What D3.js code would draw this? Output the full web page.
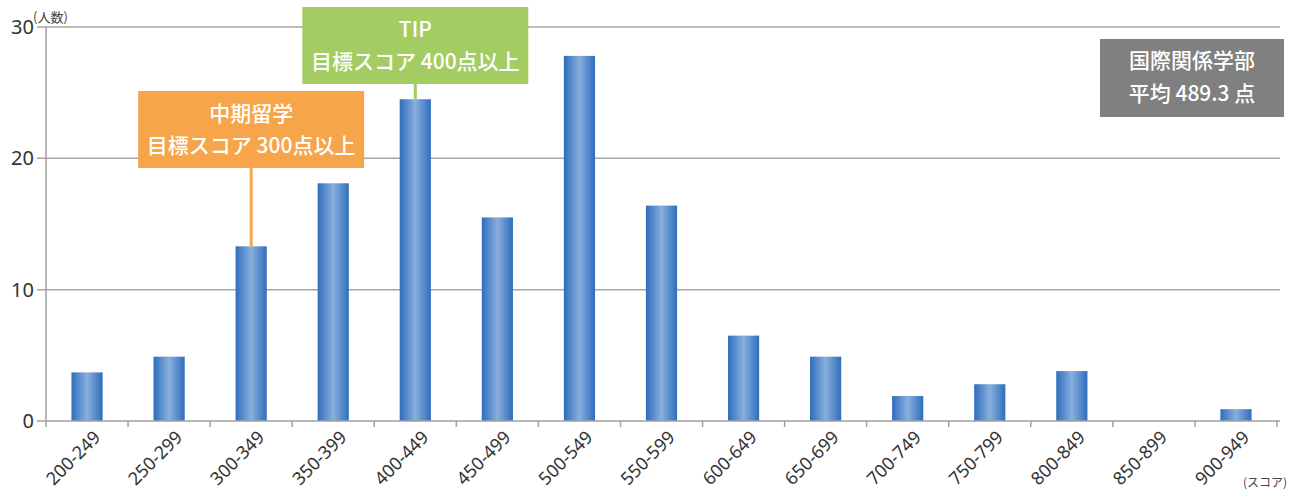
<!DOCTYPE html>
<html>
<head>
<meta charset="utf-8">
<script src="https://d3js.org/d3.v7.min.js"></script>
<style>
  body { margin: 0; background: #fff; }
  svg { display: block; font-family: "Noto Sans CJK JP", "Noto Sans", sans-serif; }
</style>
</head>
<body>
<svg id="chart"></svg>
<script>
// score bands and number of students
var bands = ["200-249", "250-299", "300-349", "350-399", "400-449", "450-499", "500-549",
             "550-599", "600-649", "650-699", "700-749", "750-799", "800-849", "850-899", "900-949"];
var counts = [3.7, 4.9, 13.3, 18.1, 24.5, 15.5, 27.8, 16.4, 6.5, 4.9, 1.9, 2.8, 3.8, 0, 0.9];
var yTicks = [0, 10, 20, 30];

// callouts pointing at bars
var callouts = [
  { band: "300-349", lines: ["中期留学", "目標スコア 300点以上"], color: "#f7a54a", boxTop: 91 },
  { band: "400-449", lines: ["TIP", "目標スコア 400点以上"], color: "#a3cd62", boxTop: 7 }
];
var average = ["国際関係学部", "平均 489.3 点"];

var W = 1290, H = 493;
var m = { left: 46, right: 1277, top: 27, bottom: 421 };

var svg = d3.select("#chart").attr("width", W).attr("height", H);

var x = d3.scaleBand().domain(bands).range([m.left, m.right]).paddingInner(0.62).paddingOuter(0.31);
var xb = d3.scaleBand().domain(bands).range([m.left, m.right]);
var y = d3.scaleLinear().domain([0, 30]).range([m.bottom, m.top]);

// gradient for bars
var grad = svg.append("defs").append("linearGradient").attr("id", "barGrad")
  .attr("x1", "0%").attr("x2", "100%").attr("y1", "0%").attr("y2", "0%");
grad.append("stop").attr("offset", "0%").attr("stop-color", "#2f6dbd");
grad.append("stop").attr("offset", "50%").attr("stop-color", "#89afdd");
grad.append("stop").attr("offset", "100%").attr("stop-color", "#2f6dbd");

// gridlines
svg.append("g").selectAll("line").data(yTicks.filter(function(d) { return d > 0; }))
  .enter().append("line")
  .attr("x1", m.left - 9).attr("x2", m.right + 3)
  .attr("y1", function(d) { return y(d); }).attr("y2", function(d) { return y(d); })
  .attr("stroke", "#a6a6a6").attr("stroke-width", 1.5);

// y tick labels
svg.append("g").selectAll("text").data(yTicks).enter().append("text")
  .attr("x", 34).attr("y", function(d) { return y(d); }).attr("dy", "0.35em")
  .attr("text-anchor", "end").attr("font-size", 20).attr("fill", "#333")
  .style("font-family", "'Noto Sans', sans-serif")
  .text(function(d) { return d; });

svg.append("text").attr("x", 33).attr("y", 22).attr("font-size", 13).attr("fill", "#444")
  .text("(人数)");

// bars
svg.append("g").selectAll("rect").data(counts).enter().append("rect")
  .attr("x", function(d, i) { return x(bands[i]); })
  .attr("width", x.bandwidth())
  .attr("y", function(d) { return y(d); })
  .attr("height", function(d) { return y(0) - y(d); })
  .attr("fill", "url(#barGrad)");

// axes lines
svg.append("line").attr("x1", m.left).attr("x2", m.left).attr("y1", m.top).attr("y2", m.bottom)
  .attr("stroke", "#a0a0a0").attr("stroke-width", 1.5);
svg.append("line").attr("x1", m.left - 9).attr("x2", m.right + 3).attr("y1", m.bottom).attr("y2", m.bottom)
  .attr("stroke", "#a0a0a0").attr("stroke-width", 1.5);

// x ticks at band edges
var edges = bands.map(function(b) { return xb(b); }).concat([m.right]);
svg.append("g").selectAll("line").data(edges).enter().append("line")
  .attr("x1", function(d) { return d; }).attr("x2", function(d) { return d; })
  .attr("y1", m.bottom).attr("y2", m.bottom + 6)
  .attr("stroke", "#a0a0a0").attr("stroke-width", 1.5);

// x labels, rotated
svg.append("g").selectAll("text").data(bands).enter().append("text")
  .attr("transform", function(d) {
    return "translate(" + (xb(d) + xb.bandwidth() / 2 + 10) + "," + (m.bottom + 13) + ") rotate(-45)";
  })
  .attr("text-anchor", "end").attr("dy", "0.35em")
  .attr("font-size", 18).attr("fill", "#333")
  .style("font-family", "'Noto Sans', sans-serif")
  .text(function(d) { return d; });

svg.append("text").attr("x", 1287).attr("y", 487).attr("text-anchor", "end")
  .attr("font-size", 12).attr("fill", "#444").text("(スコア)");

// callouts
var boxW = 226, boxH = 77;
callouts.forEach(function(c) {
  var i = bands.indexOf(c.band);
  var cx = xb(c.band) + xb.bandwidth() / 2;
  svg.append("line").attr("x1", cx).attr("x2", cx)
    .attr("y1", c.boxTop + boxH).attr("y2", y(counts[i]))
    .attr("stroke", c.color).attr("stroke-width", 3);
  svg.append("rect").attr("x", cx - boxW / 2).attr("y", c.boxTop)
    .attr("width", boxW).attr("height", boxH).attr("fill", c.color);
  c.lines.forEach(function(t, k) {
    svg.append("text").attr("x", cx).attr("y", c.boxTop + 23 + k * 32).attr("dy", "0.35em")
      .attr("text-anchor", "middle").attr("font-size", 21).attr("font-weight", 500).attr("fill", "#fff")
      .text(t);
  });
});

// average box
svg.append("rect").attr("x", 1100).attr("y", 39).attr("width", 184).attr("height", 78)
  .attr("fill", "#808080");
average.forEach(function(t, k) {
  svg.append("text").attr("x", 1192).attr("y", 61 + k * 33).attr("dy", "0.35em")
    .attr("text-anchor", "middle").attr("font-size", 21).attr("font-weight", 500).attr("fill", "#fff")
    .text(t);
});
</script>
</body>
</html>
